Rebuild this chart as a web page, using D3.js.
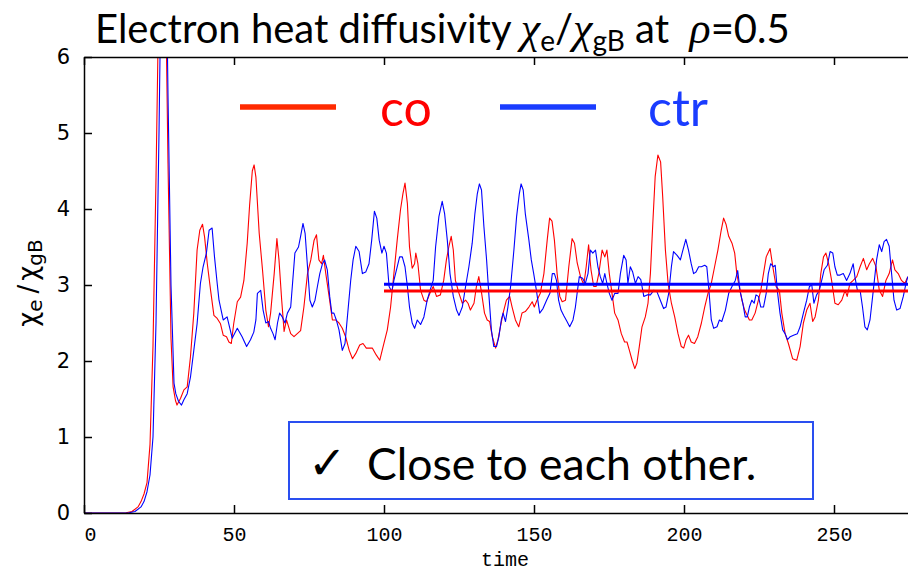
<!DOCTYPE html>
<html>
<head>
<meta charset="utf-8">
<script src="https://cdn.jsdelivr.net/npm/d3@7"></script>
<style>
  html, body { margin: 0; padding: 0; background: #fff; }
  svg { display: block; }
</style>
</head>
<body>
<svg id="chart" width="908" height="571"></svg>
<script>
// ---------------- data ----------------
const coTime = [0,10,14,16,18,19,20,21,22,23,24,25,26,27,28,29,29.7,30.5,31,32.2,33.3,34.4,35.5,36.6,37.7,38.6,39.5,40.2,41.1,42.2,43.3,44.4,45.5,46.4,47.5,48.3,49.1,49.9,51.1,52.2,53.3,54.4,55.2,56.1,56.7,57.3,58.4,59.5,60.6,61.5,62.2,63.4,64.3,65,65.9,66.7,67.5,68.9,70,71.1,72.2,73.3,74.5,75.6,76.7,77.5,78.3,79.2,79.8,80.6,81.7,82.8,83.9,85,86.1,87.2,88.4,89.5,90.6,91.9,93,94.1,96.1,97.4,98.6,99.7,101.1,102.2,103.3,104.4,105.5,106.3,107,107.8,108.5,109.4,110.2,110.6,111.3,112.2,113.3,114.2,115.3,116.4,117.5,118.8,119.9,120.8,121.6,122.4,123.1,123.8,125,126.1,127.2,128,128.8,130,130.8,131.6,132.4,133.5,134.4,135.2,136.1,137.2,138,138.8,139.7,140.8,141.9,142.7,143.8,144.9,146,147.1,148.3,149.4,150.1,151,152.1,153.3,154.4,155.2,156,156.8,157.7,158.6,159.4,160.5,161.6,162.7,163.5,164.4,165.5,166.6,167.4,168.2,169,169.9,170.7,171.6,172.7,173.6,174.3,175.1,176,176.9,178,179.1,180.2,181,181.8,182.7,183.6,184.3,185.1,186,187.1,188,188.8,189.6,190.4,191.3,192.2,192.9,193.8,194.7,195.8,196.9,198,199.1,199.9,200.7,201.5,202.4,203.5,204.6,205.8,206.9,208,209.1,210.2,211.3,212.4,213.2,214,214.9,216,216.9,217.6,218.4,219.3,220.2,221.1,221.8,222.6,223.7,224.8,225.6,226.5,227.4,228.7,229.6,230.7,231.8,232.6,233.7,234.8,236.2,237.6,238.7,239.8,240.9,242,242.9,243.7,244.8,245.6,246.5,247.3,248.2,249.2,250.3,251.4,252.6,253.7,254.4,255.3,256.4,257.6,258.7,259.8,260.9,261.8,262.9,264,265.1,266.2,267.3,268.4,269.5,270.3,271.4,272.5,273.6,274.6];
const coValue = [0,0,0.003,0.02,0.08,0.15,0.25,0.4,0.9,2.2,4.4,7,9.5,7.5,4.6,2.3,1.66,1.48,1.42,1.51,1.62,1.66,2.06,2.63,3.46,3.72,3.8,3.63,3.28,2.93,2.6,2.56,2.49,2.34,2.32,2.25,2.23,2.49,2.78,2.84,3.06,3.55,4.05,4.5,4.58,4.42,3.68,3.2,2.67,2.45,2.63,3.15,3.61,3.33,2.8,2.39,2.54,2.36,2.32,2.36,2.4,2.71,3.15,3.33,3.59,3.66,3.33,3.28,3.39,3.15,2.85,2.54,2.54,2.5,2.43,2.32,2.14,2.03,2.1,2.21,2.23,2.17,2.17,2.08,2.01,2.19,2.41,2.71,3.15,3.59,3.99,4.2,4.34,4.07,3.5,3.22,3.28,3.42,3.28,2.93,2.8,2.78,2.89,2.98,2.85,2.87,3.06,3.33,3.5,3.64,3.46,3.06,2.89,2.76,2.8,2.76,2.67,2.76,2.98,3.11,2.93,2.63,2.54,2.52,2.32,2.17,2.28,2.45,2.63,2.8,2.85,2.71,2.54,2.45,2.63,2.65,2.71,2.78,2.71,2.8,2.89,3.15,3.59,3.88,3.84,3.59,3.15,2.85,2.78,2.8,3.24,3.61,3.55,3.29,3.11,3.0,3.24,3.53,3.2,2.98,2.98,3.15,3.46,3.37,3.46,3.15,2.89,2.63,2.54,2.36,2.25,2.25,2.14,2.01,1.9,1.97,2.19,2.45,2.58,2.76,3.15,3.81,4.43,4.71,4.62,4.16,3.46,3.02,2.76,2.58,2.36,2.19,2.17,2.28,2.34,2.25,2.23,2.32,2.5,2.71,2.89,3.02,3.24,3.46,3.72,3.88,3.8,3.64,3.55,3.42,3.15,2.98,2.8,2.67,2.6,2.54,2.54,2.63,2.8,2.93,3.15,3.37,3.48,3.24,2.98,2.93,2.63,2.36,2.23,2.03,2.01,2.19,2.5,2.67,2.76,2.52,2.58,2.8,3.15,3.37,3.42,3.28,3.06,2.76,2.74,2.8,2.93,2.85,3.02,3.06,3.11,3.24,3.35,3.2,3.28,3.35,3.24,2.93,2.85,3.06,3.15,3.33,3.2,3.15,3.06,3.02,3.11];

const ctrTime = [0,10,15,17,19,20,21,22,23,24,25,26,27,28,29,30,30.6,31.5,32.5,33.3,34.4,35.5,36.6,37.7,38.8,39.7,40.8,41.7,42.7,43.5,44.4,45,46.4,47.7,49.4,51.1,52.7,54.2,55.5,56.6,57.3,57.8,58.9,59.7,60.6,61.5,62.2,63,63.7,64.5,65.2,66.1,67,67.8,68.9,70.3,71.5,72.2,73,73.7,74.5,75.3,76.1,77,77.8,78.6,79.5,80.2,81.1,81.9,82.6,83.3,84.1,85,86.1,87,87.8,88.9,89.7,90.6,91.7,92.8,93.9,95,95.9,96.8,97.6,98.4,99.3,100,100.8,101.7,102.6,103.3,104.4,105.2,106.1,107,107.8,108.5,109.4,110.2,111.1,112.2,113.3,114.4,115.5,116.4,117.2,118.3,119.4,120.2,121.1,122,123.1,124.2,125,126.1,127.2,128.3,129.4,130.3,131.1,131.8,132.5,133.3,134.2,135,135.8,136.6,137.5,138.3,139.1,139.7,140.5,141.3,142.2,143.3,144.2,145.1,145.7,146.4,147.1,148.3,149.1,149.9,150.8,151.9,153,154.2,155.3,156.1,156.8,157.5,158.2,159,159.9,161,161.9,163,163.8,164.4,165.1,166.2,167.1,168,168.8,169.6,170.5,171.3,172.1,172.9,173.6,174.3,175.1,176,176.9,178,178.8,179.9,180.7,181.3,182.1,182.9,183.8,184.7,185.6,186.6,187.7,188.8,189.9,191,192.1,193.2,194,194.9,195.8,196.5,197.7,198.8,199.5,200.6,201.5,202.4,203.2,204,204.9,205.8,206.9,207.6,208.2,209.1,209.9,211,211.8,212.6,213.8,214.9,216,217.1,217.9,218.7,219.6,220.4,221.1,221.8,222.6,223.4,224,224.8,225.6,226.5,227.4,228.1,228.9,229.8,230.4,231.1,232,232.9,233.7,234.5,235.4,236.5,237.8,238.7,239.8,240.9,241.8,242.6,243.3,244.2,245.1,245.9,246.7,247.8,248.7,249.6,250.3,251.1,252,253.1,254.2,255.3,256.4,257,257.8,258.7,259.5,260.3,261.1,262,263.1,264.2,265.1,265.9,266.7,267.5,268.4,269.2,270,270.9,272,273.1,274,274.6];
const ctrValue = [0,0,0.003,0.02,0.08,0.15,0.28,0.5,1.0,2.5,5,8,8.5,5.5,3.0,1.71,1.57,1.47,1.42,1.49,1.57,1.79,2.14,2.49,3.02,3.24,3.42,3.72,3.75,3.37,3.02,2.8,2.54,2.58,2.3,2.43,2.32,2.19,2.28,2.38,2.54,2.89,2.93,2.67,2.5,2.52,2.43,2.36,2.28,2.5,2.63,2.58,2.5,2.63,2.71,3.42,3.5,3.64,3.81,3.68,3.24,2.8,2.71,2.8,2.98,3.15,3.28,3.33,3.2,2.85,2.63,2.63,2.54,2.41,2.14,2.23,2.58,3.06,3.33,3.51,3.44,3.15,3.17,3.28,3.59,3.97,3.88,3.59,3.42,3.51,3.42,2.98,2.91,3.06,3.24,3.37,3.37,3.24,2.98,2.71,2.5,2.43,2.54,2.48,2.58,2.8,2.95,3.06,3.5,3.9,4.1,3.94,3.59,3.15,2.85,2.67,2.6,2.71,2.98,3.24,3.55,3.94,4.2,4.33,4.25,3.77,3.33,2.85,2.41,2.19,2.19,2.32,2.54,2.63,2.52,2.71,2.98,3.46,3.9,4.2,4.33,4.25,3.94,3.59,3.33,3.15,2.93,2.63,2.69,2.8,2.89,3.15,3.15,3.06,2.8,2.67,2.6,2.52,2.45,2.54,2.71,2.9,3.11,3.09,3.02,3.15,3.46,3.42,3.46,3.24,3.11,3.02,3.15,3.02,2.89,2.8,2.89,2.89,3.15,3.39,3.33,3.02,3.24,3.17,3.02,3.11,3.07,2.85,2.87,2.87,2.93,2.91,2.8,2.69,2.71,2.89,3.24,3.44,3.39,3.33,3.44,3.6,3.46,3.28,3.15,3.17,3.24,3.24,3.26,3.24,2.98,2.54,2.43,2.45,2.54,2.52,2.67,2.89,2.98,3.06,3.19,2.92,2.76,2.58,2.58,2.71,2.8,2.76,2.87,2.85,2.71,2.71,2.89,3.15,3.28,3.24,3.26,2.93,2.63,2.41,2.36,2.28,2.32,2.34,2.36,2.45,2.63,2.8,2.98,3.0,2.76,2.87,2.93,3.06,3.2,3.26,3.44,3.42,3.24,3.13,3.13,3.15,3.06,3.15,3.28,3.1,2.93,2.93,2.71,2.45,2.41,2.54,2.93,3.33,3.53,3.44,3.57,3.6,3.51,3.15,2.8,2.67,2.69,2.85,3.02,3.11];

// time-averaged values (t >= 100)
const meanStart = 100;
const coMean = 2.92;
const ctrMean = 3.01;

const seriesNames = ["co", "ctr"];
const seriesColors = ["#ff0000", "#0000ff"];
const xTicks = [0, 50, 100, 150, 200, 250];
const yTicks = [0, 1, 2, 3, 4, 5, 6];
const xDomain = [0, 275];
const yDomain = [0, 6];
const boxText = "Close to each other.";

if (coTime.length !== coValue.length) throw new Error("co lengths " + coTime.length + " vs " + coValue.length);
if (ctrTime.length !== ctrValue.length) throw new Error("ctr lengths " + ctrTime.length + " vs " + ctrValue.length);

// ---------------- layout ----------------
const svg = d3.select("#chart");
const L = 84, R = 909, T = 57, B = 513;
const xScale = d3.scaleLinear().domain(xDomain).range([L, R]);
const yScale = d3.scaleLinear().domain(yDomain).range([B, T]);

svg.append("defs").append("clipPath").attr("id", "plotclip")
  .append("rect").attr("x", L).attr("y", T).attr("width", R - L).attr("height", B - T);

// Title
const greek = "'Liberation Serif', serif";
const title = svg.append("text")
  .attr("x", 95).attr("y", 43)
  .attr("font-family", "Lato, 'Open Sans', sans-serif")
  .attr("font-size", 40).attr("fill", "#000");
title.append("tspan").text("Electron heat diffusivity ");
title.append("tspan").attr("font-family", greek).attr("font-style", "italic").attr("font-size", 44).text("χ");
title.append("tspan").attr("font-size", 28).attr("dy", 8).text("e");
title.append("tspan").attr("dy", -8).text("/");
title.append("tspan").attr("font-family", greek).attr("font-style", "italic").attr("font-size", 44).text("χ");
title.append("tspan").attr("font-size", 28).attr("dy", 8).text("gB");
title.append("tspan").attr("dy", -8).text(" at\u00a0\u00a0");
title.append("tspan").attr("font-family", greek).attr("font-style", "italic").attr("font-size", 44).text("ρ");
title.append("tspan").text("=0.5");

// Data lines
const plotG = svg.append("g").attr("clip-path", "url(#plotclip)");
const lineGen = d3.line().x(d => xScale(d[0])).y(d => yScale(d[1]));
const coData = d3.zip(coTime, coValue);
const ctrData = d3.zip(ctrTime, ctrValue);

plotG.append("path").datum(coData).attr("d", lineGen)
  .attr("fill", "none").attr("stroke", seriesColors[0]).attr("stroke-width", 1.1).attr("stroke-linejoin", "round");
plotG.append("path").datum(ctrData).attr("d", lineGen)
  .attr("fill", "none").attr("stroke", seriesColors[1]).attr("stroke-width", 1.1).attr("stroke-linejoin", "round");

// Mean lines
plotG.append("line")
  .attr("x1", xScale(meanStart)).attr("x2", xScale(xDomain[1])).attr("y1", yScale(coMean)).attr("y2", yScale(coMean))
  .attr("stroke", seriesColors[0]).attr("stroke-width", 3);
plotG.append("line")
  .attr("x1", xScale(meanStart)).attr("x2", xScale(xDomain[1])).attr("y1", yScale(ctrMean)).attr("y2", yScale(ctrMean))
  .attr("stroke", seriesColors[1]).attr("stroke-width", 3);

// Axes
const axisColor = "#000";
const gBottom = svg.append("g").attr("transform", `translate(0,${B})`)
  .call(d3.axisBottom(xScale).tickValues(xTicks).tickSizeInner(-8).tickSizeOuter(0).tickPadding(14).tickFormat(d3.format("d")));
const gTop = svg.append("g").attr("transform", `translate(0,${T})`)
  .call(d3.axisTop(xScale).tickValues(xTicks).tickSizeInner(-8).tickSizeOuter(0).tickFormat(""));
const gLeft = svg.append("g").attr("transform", `translate(${L},0)`)
  .call(d3.axisLeft(yScale).tickValues(yTicks).tickSizeInner(-8).tickSizeOuter(0).tickPadding(14).tickFormat(d3.format("d")));

[gBottom, gTop, gLeft].forEach(g => {
  g.select(".domain").attr("stroke", axisColor).attr("stroke-width", 1.5);
  g.selectAll(".tick line").attr("stroke", axisColor).attr("stroke-width", 1.5);
});
gBottom.selectAll(".tick text")
  .attr("font-family", "'Liberation Mono', monospace").attr("font-size", 20).attr("fill", "#000");
gBottom.selectAll(".tick").filter(d => d === 0).select("text").attr("dx", 6);
gLeft.selectAll(".tick text")
  .attr("font-family", "'DejaVu Sans', sans-serif").attr("font-size", 21).attr("fill", "#000");

// Axis titles
svg.append("text")
  .attr("x", 505).attr("y", 566).attr("text-anchor", "middle")
  .attr("font-family", "'Liberation Mono', monospace").attr("font-size", 20).attr("fill", "#000")
  .text("time");

const yl = svg.append("text")
  .attr("transform", "translate(37,283) rotate(-90)")
  .attr("text-anchor", "middle")
  .attr("font-family", "'DejaVu Sans', sans-serif").attr("font-size", 26).attr("fill", "#000");
yl.append("tspan").text("χ");
yl.append("tspan").attr("font-size", 20).attr("dy", 5).text("e");
yl.append("tspan").attr("dy", -5).attr("dx", 6).text("/");
yl.append("tspan").attr("dx", 4).text("χ");
yl.append("tspan").attr("font-size", 20).attr("dy", 5).text("gB");

// Legend
const legendX = [240, 500];
const legendTextX = [380, 648];
seriesNames.forEach((name, i) => {
  svg.append("line")
    .attr("x1", legendX[i]).attr("x2", legendX[i] + 96)
    .attr("y1", 107).attr("y2", 107)
    .attr("stroke", i === 0 ? "#ff2a00" : "#1a3cff").attr("stroke-width", 5.5);
  svg.append("text")
    .attr("x", legendTextX[i]).attr("y", 126)
    .attr("font-family", "Lato, 'Open Sans', sans-serif").attr("font-size", 50)
    .attr("fill", i === 0 ? "#ff0000" : "#1a3cff")
    .text(name);
});

// Annotation box
svg.append("rect")
  .attr("x", 289).attr("y", 422).attr("width", 524).attr("height", 77)
  .attr("fill", "#fff").attr("stroke", "#2a4ff0").attr("stroke-width", 2);
svg.append("text")
  .attr("x", 308).attr("y", 479)
  .attr("font-family", "'DejaVu Sans', sans-serif").attr("font-size", 46).attr("font-weight", "bold").attr("fill", "#000")
  .text("✓");
svg.append("text")
  .attr("x", 367).attr("y", 480)
  .attr("font-family", "Lato, 'Open Sans', sans-serif").attr("font-size", 44.5).attr("fill", "#000")
  .text(boxText);
</script>
</body>
</html>
